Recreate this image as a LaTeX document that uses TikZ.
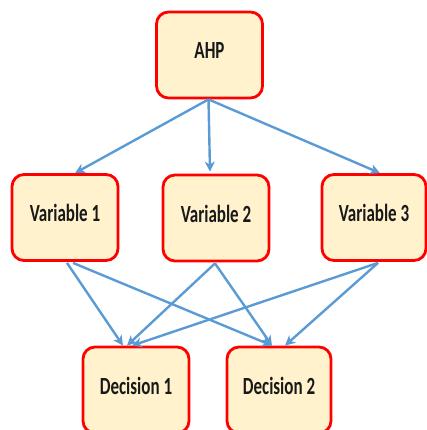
\documentclass[tikz,border=0pt]{standalone}
\usepackage{fontspec}
\setmainfont{Carlito}
\usetikzlibrary{arrows.meta,calc}
\definecolor{boxfill}{HTML}{FFF2CC}
\definecolor{boxline}{HTML}{FF0000}
\definecolor{linkblue}{HTML}{5B9BD5}
\newcommand{\boxtext}[1]{\raisebox{9pt}{\scalebox{1}[1.45]{\fontsize{17pt}{20pt}\selectfont\bfseries #1}}}
\tikzset{
  block/.style={draw=boxline, fill=boxfill, line width=2.8pt, rounded corners=12pt,
    minimum width=106pt, minimum height=86pt, inner sep=0pt, text=black!90},
  link/.style={draw=linkblue, line width=2.4pt,
    -{Stealth[length=10pt,width=10pt,inset=3pt]}}
}
\begin{document}
\begin{tikzpicture}[x=1pt,y=-1pt]
  \useasboundingbox (0,0) rectangle (427,430);
  \clip (0,0) rectangle (427,430);
  % boxes
  \node[block] (ahp) at (209.5,55) {\boxtext{AHP}};
  \node[block] (v1) at (65,217.5) {\boxtext{Variable 1}};
  \node[block] (v2) at (216,218) {\boxtext{Variable 2}};
  \node[block, minimum width=104pt] (v3) at (374,217.5) {\boxtext{Variable 3}};
  \node[block] (d1) at (136,390) {\boxtext{Decision 1}};
  \node[block, minimum width=104pt] (d2) at (279,390) {\boxtext{Decision 2}};
  % links from AHP
  \coordinate (top) at ($(ahp.south)+(-1,0)$);
  \draw[link] (top) -- ($(v1.north)+(10,0)$);
  \draw[link] (top) -- ($(v2.north)+(-6,-2)$);
  \draw[link] (top) -- ($(v3.north)+(6,0)$);
  % links to decisions
  \draw[link] ($(v1.south)+(2,1)$) -- ($(d1.north)+(-13,0)$);
  \draw[link] ($(v1.south)+(8,1)$) -- ($(d2.north)+(-7,0)$);
  \draw[link] ($(v2.south)+(-1,1)$) -- ($(d1.north)+(-9,0)$);
  \draw[link] ($(v2.south)+(-1,1)$) -- ($(d2.north)+(-7,0)$);
  \draw[link] ($(v3.south)+(4,1)$) -- ($(d1.north)+(-4,0)$);
  \draw[link] ($(v3.south)+(4,1)$) -- ($(d2.north)+(6,0)$);
\end{tikzpicture}
\end{document}
